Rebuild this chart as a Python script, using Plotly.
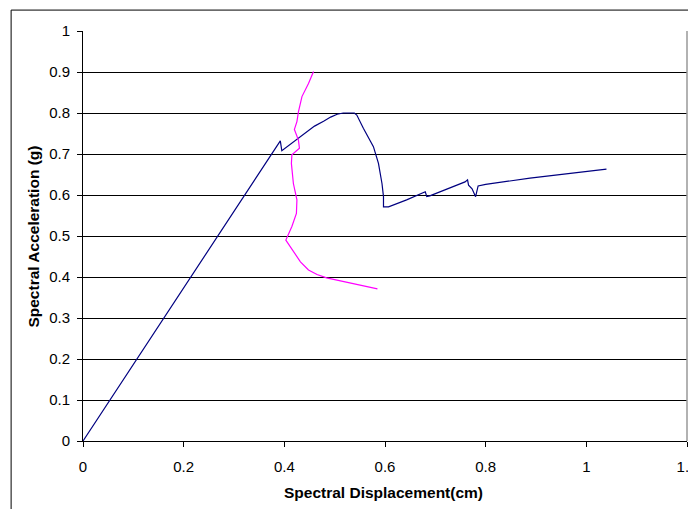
import plotly.graph_objects as go

# Capacity curve (blue)
cap_x = [0.0, 0.392, 0.395, 0.460, 0.478, 0.492, 0.505, 0.517, 0.539, 0.544, 0.557, 0.577, 0.587, 0.594,
         0.597, 0.597, 0.607, 0.643, 0.680, 0.683, 0.689, 0.759, 0.764, 0.766, 0.773, 0.780, 0.785, 0.80,
         0.888, 1.040]
cap_y = [0.0, 0.732, 0.708, 0.768, 0.780, 0.790, 0.797, 0.800, 0.800, 0.795, 0.763, 0.718, 0.677, 0.628,
         0.596, 0.571, 0.571, 0.588, 0.608, 0.596, 0.598, 0.632, 0.637, 0.624, 0.615, 0.596, 0.622, 0.626,
         0.641, 0.663]

# Demand curve (magenta)
dem_x = [0.458, 0.448, 0.435, 0.428, 0.425, 0.420, 0.428, 0.430, 0.415, 0.414, 0.418, 0.425, 0.424,
         0.415, 0.403, 0.418, 0.432, 0.448, 0.465, 0.484, 0.504, 0.537, 0.585]
dem_y = [0.901, 0.872, 0.840, 0.803, 0.779, 0.760, 0.734, 0.714, 0.698, 0.677, 0.628, 0.588, 0.555,
         0.523, 0.490, 0.462, 0.437, 0.417, 0.406, 0.398, 0.393, 0.383, 0.371]

x_ticks = [0, 0.2, 0.4, 0.6, 0.8, 1, 1.2]
y_ticks = [0, 0.1, 0.2, 0.3, 0.4, 0.5, 0.6, 0.7, 0.8, 0.9, 1]

x_title = "Spectral Displacement(cm)"
y_title = "Spectral Acceleration (g)"

fig = go.Figure()
fig.add_trace(go.Scatter(x=cap_x, y=cap_y, mode="lines",
                         line=dict(color="#000080", width=1.2), showlegend=False))
fig.add_trace(go.Scatter(x=dem_x, y=dem_y, mode="lines",
                         line=dict(color="#FF00FF", width=1.2), showlegend=False))

fam = "Liberation Sans, Arial, sans-serif"

fig.update_layout(
    width=688, height=501,
    margin=dict(l=74.5, r=9, t=23, b=68),
    paper_bgcolor="white", plot_bgcolor="white",
    font=dict(family=fam, size=15, color="black"),
    showlegend=False,
    xaxis=dict(
        range=[0, 1.2], tickvals=x_ticks, ticktext=[str(v) for v in x_ticks],
        showgrid=False, zeroline=False, automargin=False,
        showline=True, linecolor="black", linewidth=1,
        ticks="outside", ticklen=5, tickcolor="black", tickwidth=1,
        ticklabelstandoff=7, ticklabeloverflow="allow",
    ),
    yaxis=dict(
        range=[0, 1], tickvals=y_ticks, ticktext=[str(v) for v in y_ticks],
        showgrid=True, gridcolor="black", gridwidth=1,
        zeroline=False, automargin=False,
        showline=True, linecolor="black", linewidth=1,
        ticks="outside", ticklen=5, tickcolor="black", tickwidth=1,
        ticklabelstandoff=4, ticklabeloverflow="allow",
    ),
    annotations=[
        dict(text="<b>" + x_title + "</b>", xref="paper", yref="paper",
             x=0.497, y=-0.1244, xanchor="center", yanchor="middle", showarrow=False,
             font=dict(family=fam, size=15.5, color="black")),
        dict(text="<b>" + y_title + "</b>", xref="paper", yref="paper",
             x=-0.0818, y=0.4976, xanchor="center", yanchor="middle", showarrow=False,
             textangle=-90, font=dict(family=fam, size=15.5, color="black")),
    ],
    shapes=[
        dict(type="line", xref="paper", yref="paper", x0=1, x1=1, y0=0, y1=1,
             line=dict(color="#999999", width=1.5)),
        dict(type="rect", xref="paper", yref="paper", x0=-0.119, x1=2, y0=-1, y1=1.051,
             line=dict(color="black", width=1), fillcolor="rgba(0,0,0,0)"),
    ],
)

fig.write_html("out.html")
